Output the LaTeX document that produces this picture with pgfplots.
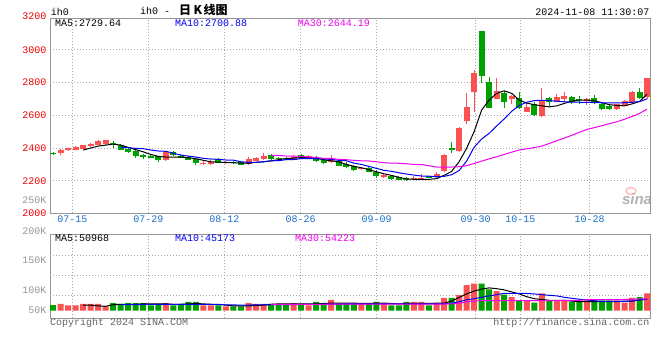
\documentclass[border=0pt]{standalone}
\usepackage{fontspec}
\usepackage{pgfplots}
\pgfplotsset{compat=1.18}
\usepackage{pgfplotstable}
\setmainfont{Liberation Sans}
\setmonofont{Liberation Mono}
\newfontfamily\cjk{Noto Sans CJK SC}
\definecolor{kred}{RGB}{250,82,82}
\definecolor{kgreen}{RGB}{0,160,0}
\definecolor{tickred}{RGB}{235,0,0}
\definecolor{datebl}{RGB}{25,110,200}
\definecolor{gridc}{RGB}{170,170,170}
\definecolor{framec}{RGB}{150,150,150}
\definecolor{volgray}{RGB}{150,150,150}
\definecolor{txtgray}{RGB}{100,100,100}
\definecolor{mablue}{RGB}{0,0,240}
\definecolor{mamag}{RGB}{240,0,240}
\newcommand{\mono}{\ttfamily\fontsize{10bp}{12bp}\selectfont}

% i open high low close volume(K)
\pgfplotstableread{
i o h l c v
1 2371 2394 2359 2390 65
2 2388 2403 2384 2400 61.5
3 2388 2412 2386 2408 61.5
4 2394 2420 2392 2418 65
5 2412 2432 2408 2426 65
6 2420 2447 2416 2441 65
7 2423 2451 2420 2447 59
15 2327 2378 2321 2374 67
20 2302 2322 2296 2310 61.5
21 2304 2324 2298 2316 61.5
23 2308 2320 2302 2314 59
26 2300 2345 2294 2335 67
27 2322 2345 2320 2341 65
28 2333 2369 2329 2351 65
32 2329 2357 2325 2345 67
34 2339 2357 2333 2351 61.5
37 2313 2355 2306 2337 75
41 2270 2286 2264 2278 65
44 2221 2245 2215 2235 67
48 2209 2227 2203 2219 70
49 2213 2239 2207 2219 70
51 2221 2251 2211 2243 66.5
52 2261 2365 2255 2356 80
54 2382 2530 2378 2524 87
55 2563 2736 2548 2650 112
56 2744 2876 2622 2860 115.5
59 2701 2827 2699 2748 97
61 2701 2724 2670 2718 82
63 2620 2684 2618 2650 74
65 2595 2766 2587 2693 91.5
67 2683 2730 2679 2713 74
68 2697 2744 2690 2719 74
71 2687 2703 2666 2699 74
75 2638 2671 2634 2668 74
76 2658 2691 2654 2687 68
77 2679 2746 2677 2744 80
79 2710 2829 2701 2829 91.5
}\redk

\pgfplotstableread{
i o h l c v
0 2363 2374 2357 2361 62
8 2432 2441 2402 2423 67
9 2418 2424 2386 2390 65
10 2396 2400 2369 2377 67
11 2380 2386 2341 2353 67
12 2359 2365 2335 2347 67
13 2353 2357 2337 2339 61.5
14 2349 2353 2317 2327 65
16 2374 2382 2353 2357 61.5
17 2351 2361 2337 2339 65
18 2345 2353 2325 2329 70
19 2333 2341 2294 2310 70
22 2335 2339 2306 2310 61.5
24 2314 2318 2304 2310 59
25 2313 2316 2294 2298 59
29 2357 2361 2325 2335 65
30 2339 2345 2325 2331 65
31 2335 2347 2325 2333 65
33 2357 2361 2333 2341 65
35 2337 2349 2317 2321 70
36 2329 2333 2304 2308 67
38 2321 2329 2288 2292 66.5
39 2304 2312 2276 2284 66.5
40 2288 2294 2260 2266 66.5
42 2280 2288 2251 2253 67
43 2255 2263 2219 2227 70
45 2231 2237 2206 2212 61.5
46 2225 2231 2202 2206 61.5
47 2217 2221 2199 2203 70
50 2227 2231 2215 2219 61.5
53 2402 2438 2369 2386 80
57 3115 3115 2799 2840 115.5
58 2803 2834 2646 2646 101.5
60 2736 2746 2646 2683 88
62 2703 2740 2640 2642 74
64 2669 2683 2597 2601 68
66 2705 2713 2660 2683 74
69 2710 2716 2670 2683 70.5
70 2700 2718 2669 2695 70.5
72 2708 2724 2669 2675 74
73 2671 2679 2634 2638 74
74 2655 2671 2630 2636 74
78 2740 2764 2699 2707 82
}\greenk

\pgfplotstableread{
i m
4 2388
5 2400
6 2412
7 2418
8 2424
9 2418
10 2404
11 2390
12 2377
13 2361
14 2349
15 2345
16 2345
17 2345
18 2341
19 2335
20 2325
21 2316
22 2314
23 2312
24 2310
25 2308
26 2307
27 2313
28 2316
29 2322
30 2329
31 2335
32 2339
33 2341
34 2341
35 2337
36 2329
37 2322
38 2316
39 2300
40 2288
41 2280
42 2268
43 2255
44 2243
45 2233
46 2221
47 2211
48 2209
49 2209
50 2209
51 2213
52 2233
53 2257
54 2316
55 2398
56 2500
57 2632
58 2693
59 2734
60 2750
61 2734
62 2693
63 2675
64 2665
65 2658
66 2652
67 2658
68 2673
69 2687
70 2693
71 2693
72 2689
73 2677
74 2665
75 2660
76 2658
77 2670
78 2685
79 2729
}\maA

\pgfplotstableread{
i m
9 2404
10 2402
11 2398
12 2396
13 2388
14 2382
15 2380
16 2369
17 2357
18 2351
19 2345
20 2337
21 2333
22 2331
23 2327
24 2326
25 2316
26 2313
27 2313
28 2316
29 2322
30 2323
31 2329
32 2330
33 2335
34 2336
35 2335
36 2333
37 2331
38 2325
39 2323
40 2308
41 2300
42 2288
43 2276
44 2264
45 2258
46 2249
47 2241
48 2235
49 2229
50 2228
51 2225
52 2227
53 2237
54 2262
55 2320
56 2405
57 2455
58 2490
59 2535
60 2578
61 2625
62 2660
63 2680
64 2690
65 2692
66 2690
67 2686
68 2683
69 2680
70 2680
71 2679
72 2678
73 2677
74 2676
75 2676
76 2677
77 2680
78 2684
79 2700
}\maB

\pgfplotstableread{
i m
29 2355
30 2355
31 2351
32 2351
33 2349
34 2345
35 2343
36 2337
37 2336
38 2331
39 2329
40 2325
41 2322
42 2321
43 2316
44 2310
45 2308
46 2307
47 2304
48 2300
49 2299
50 2292
51 2284
52 2283
53 2284
54 2286
55 2292
56 2306
57 2320
58 2334
59 2347
60 2361
61 2375
62 2388
63 2395
64 2403
65 2412
66 2428
67 2445
68 2461
69 2478
70 2496
71 2514
72 2525
73 2537
74 2549
75 2561
76 2576
77 2593
78 2612
79 2638
}\maC

\pgfplotstableread{
i m
4 62
5 62
6 60
7 59
8 63
9 64
10 64
11 64
12 65
13 65
14 65
15 65
16 64
17 64
18 65
19 66
20 65
21 64
22 64
23 62
24 60
25 60
26 60
27 61
28 62
29 64
30 65
31 65
32 65
33 65
34 65
35 65
36 66
37 67
38 67
39 67
40 67
41 66
42 66
43 67
44 67
45 66
46 65
47 66
48 66
49 66
50 66
51 67
52 67
53 72
54 81
55 90
56 97
57 102
58 105
59 103
60 100
61 95
62 90
63 83
64 78
65 76
66 74
67 74
68 74
69 72
70 70.5
71 70.5
72 70.5
73 70.5
74 70.5
75 70.5
76 72
77 72
78 75
79 76.5
}\vmaA

\pgfplotstableread{
i m
9 63
15 64
20 64
25 62
30 63
35 64
40 65
45 65
51 65
52 65.5
53 66.5
54 70.5
55 75
56 78
57 81.5
58 85
59 88
60 91.5
61 91.5
62 91.5
63 91
64 90
65 88
66 86.5
67 85
68 81.5
69 79
70 76.5
71 75
72 73
73 71
74 71
75 71
76 71.5
77 72
78 75
79 76.5
}\vmaB

\pgfplotstableread{
i m
29 64
35 64
40 64.5
45 64.5
51 64.5
53 65
54 66.5
55 70
56 72
57 73
60 73
65 73
70 74
71 75.5
75 75.5
79 78
}\vmaC

\pgfplotsset{kbase/.style={
  scale only axis, width=600bp, anchor=south west,
  xmin=-0.4, xmax=79.39,
  axis line style={draw=framec, line width=1bp},
  major tick length=0pt,
  xtick={2.57,12.67,22.78,32.94,43.05,56.21,62.14,71.37},
  major grid style={draw=gridc, line width=0.8bp, dash pattern=on 1bp off 2bp},
}}

\begin{document}
\begin{tikzpicture}
\useasboundingbox (0,0) rectangle (660bp,360bp);

% sina watermark
\draw[red!25, line width=1.5bp] (631bp,169bp) ellipse (5bp and 3.5bp);
\node[font=\fontsize{15bp}{15bp}\selectfont\bfseries\itshape, text=black!30, inner sep=0pt] at (637bp,161bp) {sina};

% ---------------- price panel ----------------
\begin{axis}[kbase,
  at={(50bp,146.5bp)}, height=194.7bp,
  ymin=2000, ymax=3190,
  ytick={2000,2200,2400,2600,2800,3000},
  yticklabels={2000,2200,2400,2600,2800,3000},
  yticklabel style={font=\mono, text=tickred},
  xticklabels={07-15,07-29,08-12,08-26,09-09,09-30,10-15,10-28},
  xticklabel style={font=\mono, text=datebl, anchor=center, yshift=-6bp},
  xmajorgrids=true, ymajorgrids=true,
]
% wicks
\addplot[draw=none, mark=none, forget plot,
  error bars/.cd, y dir=plus, y explicit, error mark=none,
  error bar style={draw=kred, line width=1bp}]
  table[x=i, y=l, y error plus expr=\thisrow{h}-\thisrow{l}] {\redk};
\addplot[draw=none, mark=none, forget plot,
  error bars/.cd, y dir=plus, y explicit, error mark=none,
  error bar style={draw=kgreen, line width=1bp}]
  table[x=i, y=l, y error plus expr=\thisrow{h}-\thisrow{l}] {\greenk};
% bodies
\addplot[draw=none, mark=none, forget plot,
  error bars/.cd, y dir=plus, y explicit, error mark=none,
  error bar style={draw=kred, line width=6bp}]
  table[x=i, y=o, y error plus expr={max(\thisrow{c}-\thisrow{o},7)}] {\redk};
\addplot[draw=none, mark=none, forget plot,
  error bars/.cd, y dir=plus, y explicit, error mark=none,
  error bar style={draw=kgreen, line width=6bp}]
  table[x=i, y=c, y error plus expr={max(\thisrow{o}-\thisrow{c},7)}] {\greenk};
% moving averages
\addplot[black, line width=1bp, mark=none] table[x=i, y=m] {\maA};
\addplot[mablue, line width=1bp, mark=none] table[x=i, y=m] {\maB};
\addplot[mamag, line width=1bp, mark=none] table[x=i, y=m] {\maC};
\end{axis}

% ---------------- volume panel ----------------
\begin{axis}[kbase,
  at={(50bp,41.7bp)}, height=83.6bp,
  ymin=-19, ymax=190,
  ytick={1.75,50,125}, yticklabels={50K,100K,150K},
  yticklabel style={font=\mono, text=volgray},
  xticklabels={},
  xmajorgrids=true, ymajorgrids=false,
  extra y ticks={38.5,89.25,139.25}, extra y tick labels={},
  extra y tick style={ymajorgrids=true},
]
\addplot[ybar, bar width=6bp, bar shift=0pt, fill=kred, draw=none, forget plot]
  table[x=i, y expr=\thisrow{v}-48] {\redk};
\addplot[ybar, bar width=6bp, bar shift=0pt, fill=kgreen, draw=none, forget plot]
  table[x=i, y expr=\thisrow{v}-48] {\greenk};
\addplot[black, line width=1bp, mark=none] table[x=i, y expr=\thisrow{m}-48] {\vmaA};
\addplot[mablue, line width=1bp, mark=none] table[x=i, y expr=\thisrow{m}-48] {\vmaB};
\addplot[mamag, line width=1bp, mark=none] table[x=i, y expr=\thisrow{m}-48] {\vmaC};
\end{axis}

% ---------------- texts ----------------
\node[font=\mono, text=tickred, anchor=east] at (50bp,344bp) {3200};
\node[font=\mono, text=volgray, anchor=east] at (50bp,160bp) {250K};
\node[font=\mono, text=volgray, anchor=east] at (50bp,129bp) {200K};

\node[font=\mono, anchor=base west, inner sep=0pt] at (50.7bp,344bp) {ih0};
\node[anchor=base west, inner sep=0pt] at (140bp,345bp)
  {\mono ih0 -\hspace{9bp}{\cjk\bfseries\fontsize{12bp}{12bp}\selectfont 日\hspace{2.5bp}K\hspace{1.5bp}线图}};
\node[font=\mono, anchor=base east, inner sep=0pt] at (649.5bp,344bp) {2024-11-08 11:30:07};

\node[font=\mono, anchor=base west, inner sep=0pt] at (55bp,333.3bp) {MA5:2729.64};
\node[font=\mono, text=mablue, anchor=base west, inner sep=0pt] at (175bp,333.3bp) {MA10:2700.88};
\node[font=\mono, text=mamag, anchor=base west, inner sep=0pt] at (297.7bp,333.3bp) {MA30:2644.19};

\node[font=\mono, anchor=base west, inner sep=0pt] at (55bp,118.3bp) {MA5:50968};
\node[font=\mono, text=mablue, anchor=base west, inner sep=0pt] at (175bp,118.3bp) {MA10:45173};
\node[font=\mono, text=mamag, anchor=base west, inner sep=0pt] at (295bp,118.3bp) {MA30:54223};

\node[font=\mono, text=txtgray, anchor=base west, inner sep=0pt] at (50bp,34.3bp) {Copyright 2024 SINA.COM};
\node[font=\mono, text=txtgray, anchor=base east, inner sep=0pt] at (649.5bp,34.3bp) {http://finance.sina.com.cn};
\end{tikzpicture}
\end{document}
